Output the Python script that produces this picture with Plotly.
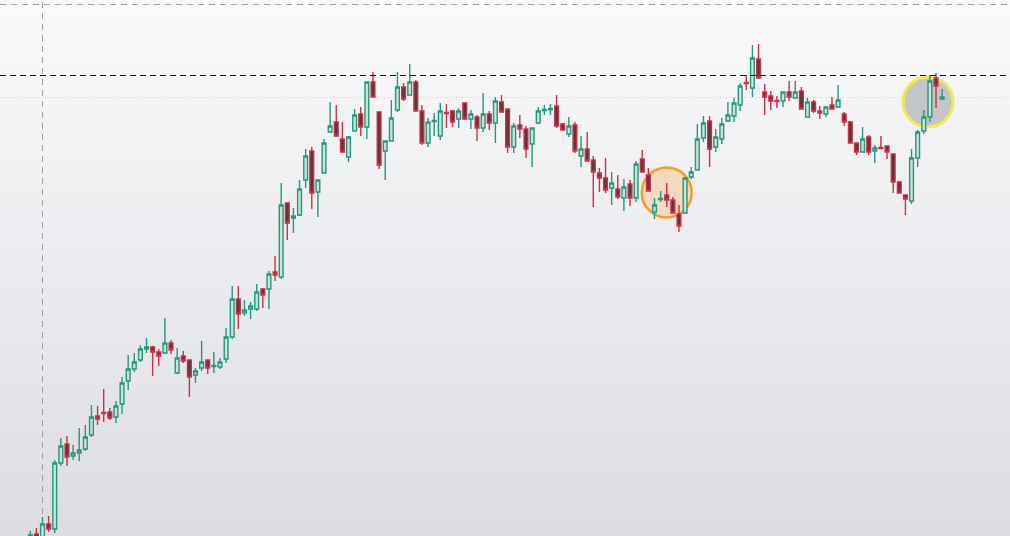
import plotly.graph_objects as go

# candle index (k), -2 .. 147
idx = list(range(-2, 148))

open_ = [58, 66, 63, 76, 71, 137, 156, 144, 147, 151, 165, 184, 187.5, 188, 183, 196, 219, 231, 240, 251,
         253, 248, 247, 257, 227, 244, 240, 225, 232, 240, 233.5, 233, 241, 263, 301, 287, 291, 291, 311, 311,
         328, 323, 397, 382, 385, 420, 449, 408, 427, 468, 478, 461, 443, 469, 486, 473, 518, 488, 449, 459,
         490, 513, 505, 518, 489, 457, 478.5, 464, 487.5, 489, 481, 497, 481, 483, 472, 486, 477, 498, 491, 453,
         475, 471, 456, 477, 489.5, 490.5, 494, 476, 466, 475, 444, 451, 440, 427, 422, 412, 411, 402, 416, 402,
         441, 425, 388, 400.5, 405, 400, 386, 387, 423, 430, 462, 479, 453, 461, 479, 484, 495, 517.5, 512, 541,
         508, 504, 499.5, 499, 508, 502, 509, 483, 498, 489, 486, 495, 493, 486, 478, 457, 448, 463, 449, 452.5,
         454, 446, 418, 405, 399, 442, 469, 483, 522, 501]
high = [69, 72, 83, 84, 140, 162, 164, 155, 172, 175, 195, 194, 211, 192, 199, 223, 245, 247, 255, 262,
        254, 251, 282, 260, 252, 249, 240, 232, 259, 240, 248, 242, 272, 314, 314, 300, 298, 316, 312, 329,
        344, 417, 397, 392, 420, 451, 453, 420, 461, 498, 495, 478, 464, 491, 493, 518, 528, 488, 459, 500,
        528, 517, 536, 520, 495, 482, 487, 497, 496, 490, 492, 497, 490, 485, 507, 489, 503, 505, 491, 477,
        485, 474, 472, 493, 495, 496, 505, 477, 483, 478, 464, 468, 444, 432, 442, 428, 425, 421, 420, 439,
        450, 432, 402, 409, 417, 403, 395, 423, 433, 476, 484, 484, 471, 482, 498, 502, 517, 525, 555, 556,
        516, 509, 504, 508, 519, 519, 513, 502, 500, 494, 493, 503, 515, 488, 479, 457, 473, 465, 455, 464,
        454, 446, 419, 405, 451, 470, 490, 525, 527, 511]
low = [55, 56, 60, 68, 67, 134, 134, 140, 139, 149, 163, 175, 178, 180, 177, 186, 210, 228, 238, 247,
       224, 234, 246, 246, 226, 237, 203, 217, 229, 226, 227, 231, 237, 261, 271, 284, 281, 289, 292, 291,
       319, 321, 360, 367, 384, 412, 391, 383, 427, 467, 463, 448, 438, 469, 464, 461, 503, 431, 420, 459,
       488, 499, 505, 489, 455, 453, 464, 460, 472, 473, 472, 480, 471, 459, 468, 470, 457, 488, 447, 447,
       462, 442, 433, 476, 485, 485, 472, 469, 463, 447, 433, 439, 393, 408, 407, 395, 401, 389, 394, 398,
       428, 409, 381, 398, 393, 387, 368, 386, 421, 430, 458, 433, 448, 456, 478, 478, 489, 510, 503, 522,
       485, 490, 492, 493, 499, 502, 491, 483, 487, 481, 483, 491, 492, 474, 457, 445, 448, 445, 437, 451.5,
       441, 407, 407, 385, 396, 433, 466, 478, 492, 501]
close = [65, 60, 76, 71, 137, 154, 143, 147, 150, 163, 183, 181, 186.5, 182, 194, 217, 231, 238, 251, 253,
         248, 244, 257, 250, 242, 239, 223, 229, 238, 232, 234.5, 238, 263, 301, 286, 290, 294, 308, 305, 326,
         325, 395, 377, 384, 411, 444, 407, 420, 457, 474, 464, 448, 463, 485, 473, 518, 503, 435, 459, 482,
         513, 501, 518, 489, 457, 478, 479.5, 489, 486.5, 478, 489, 481, 486, 472, 486, 477, 499, 488, 453, 474,
         471, 451, 472, 489, 490.5, 491.5, 474, 470, 474, 449, 451, 439, 428, 422, 410, 417, 403, 413, 402, 436,
         428, 409, 395, 401.5, 400, 387, 374, 422, 428, 461, 477, 451, 463, 476, 485, 497, 514, 516.5, 542, 522,
         503, 499, 498.5, 508, 503, 508, 491, 498, 489, 487, 493, 491, 500, 478, 457, 448, 461, 448, 452, 451.5,
         448, 418, 407, 401, 442, 468, 483, 519, 514, 503]

resistance_level = 524.5
last_price = 502.5
top_level = 595.5
marker_index = 0

# highlight circles: (center index, center price)
orange_center = (102.0, 407.5)
gray_center = (144.7, 498.0)

fig = go.Figure()

fig.add_trace(go.Candlestick(
    x=idx, open=open_, high=high, low=low, close=close,
    increasing=dict(line=dict(color="#23987c", width=1.4), fillcolor="#cbe3da"),
    decreasing=dict(line=dict(color="#cf2e44", width=1.4), fillcolor="#57393f"),
    whiskerwidth=0,
    showlegend=False,
    hoverinfo="skip",
))

shapes = []
# vertical gradient background
top_rgb = (250, 250, 251)
bot_rgb = (220, 221, 227)
n = 67
for i in range(n):
    t = i / (n - 1)
    c = tuple(round(top_rgb[j] + (bot_rgb[j] - top_rgb[j]) * t) for j in range(3))
    shapes.append(dict(type="rect", xref="paper", yref="paper",
                       x0=0, x1=1, y0=1 - (i + 1) / n, y1=1 - i / n + 0.002,
                       fillcolor="rgb(%d,%d,%d)" % c, line=dict(width=0), layer="below"))

rx = 25 / 6.12
ry = 25
shapes.append(dict(type="circle", xref="x", yref="y",
                   x0=orange_center[0] - rx, x1=orange_center[0] + rx,
                   y0=orange_center[1] - ry, y1=orange_center[1] + ry,
                   fillcolor="rgba(246,214,180,0.85)", line=dict(color="#f0a02a", width=2.5),
                   layer="below"))
shapes.append(dict(type="circle", xref="x", yref="y",
                   x0=gray_center[0] - rx, x1=gray_center[0] + rx,
                   y0=gray_center[1] - ry, y1=gray_center[1] + ry,
                   fillcolor="#c4c5c9", line=dict(color="#f2ea55", width=3),
                   layer="below"))

# reference lines
shapes.append(dict(type="line", xref="paper", yref="y", x0=0, x1=1,
                   y0=top_level, y1=top_level,
                   line=dict(color="#a0a0a4", width=1, dash="6px,5px"), layer="below"))
shapes.append(dict(type="line", xref="x", yref="paper", x0=marker_index, x1=marker_index,
                   y0=0, y1=1,
                   line=dict(color="#a0a0a4", width=1, dash="6px,5px"), layer="below"))
shapes.append(dict(type="line", xref="paper", yref="y", x0=0, x1=1,
                   y0=last_price, y1=last_price,
                   line=dict(color="#cdd0da", width=1, dash="1px,2px"), layer="below"))
shapes.append(dict(type="line", xref="paper", yref="y", x0=0, x1=1,
                   y0=resistance_level, y1=resistance_level,
                   line=dict(color="#111111", width=1, dash="6px,4px"), layer="above"))

fig.update_layout(
    width=1010, height=536,
    margin=dict(l=0, r=0, t=0, b=0),
    paper_bgcolor="#dcdde3",
    plot_bgcolor="rgba(0,0,0,0)",
    shapes=shapes,
    showlegend=False,
    boxgap=0.12,
    xaxis=dict(range=[-42.5 / 6.12, (1010 - 42.5) / 6.12], visible=False,
               rangeslider=dict(visible=False), fixedrange=True),
    yaxis=dict(range=[64, 600], visible=False, fixedrange=True),
)

fig.write_html("out.html", config={"displayModeBar": False},
               post_script="document.body.style.margin='0';document.body.style.overflow='hidden';")
